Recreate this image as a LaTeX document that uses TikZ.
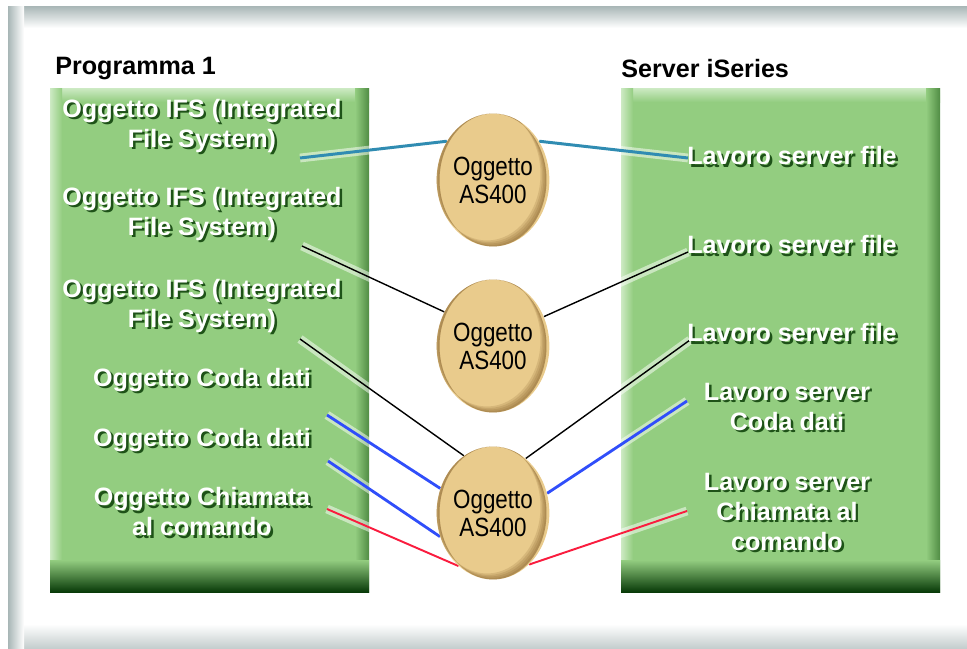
\documentclass[tikz,border=0pt]{standalone}
\usepackage{fontspec}
\setmainfont{Liberation Sans}
\newfontfamily\ovalfont{Liberation Sans}[FakeStretch=0.85]
\usetikzlibrary{shapes.geometric,calc}

\definecolor{boxgreen}{RGB}{147,205,128}
\definecolor{boxlight}{RGB}{205,234,196}
\definecolor{boxedge}{RGB}{80,140,68}
\definecolor{boxdark}{RGB}{8,58,8}
\definecolor{shadowgreen}{RGB}{30,82,24}
\definecolor{framegray}{RGB}{168,182,182}
\definecolor{ovaltan}{RGB}{233,203,140}
\definecolor{ovalrim}{RGB}{120,82,30}
\definecolor{wireteal}{RGB}{48,140,178}
\definecolor{wireblue}{RGB}{48,78,250}
\definecolor{wirered}{RGB}{250,28,62}

\newcommand\shd[1]{\rlap{\kern1.4pt\raisebox{-1.4pt}{\color{shadowgreen}#1}}#1}

\pgfdeclarelayer{back}
\pgfdeclarelayer{wires}
\pgfsetlayers{back,wires,main}

\begin{document}
\begin{tikzpicture}[x=0.02cm, y=-0.02cm, font=\bfseries\fontsize{14.3}{17}\selectfont,
    side/.style={text=white, align=center, inner sep=0},
    oval/.style={ellipse, fill=ovaltan, minimum width=2.14cm, minimum height=2.66cm,
        inner sep=0, align=center, font=\ovalfont\fontsize{15}{16}\selectfont,
        path picture={
            \foreach \d in {1.5,3,4.5,6}
                \fill[ovalrim, opacity=0.16, even odd rule] (path picture bounding box.center) ellipse (1.07cm and 1.33cm)
                    ($(path picture bounding box.center)+(-\d,-\d)$) ellipse (1.07cm and 1.33cm);
        }},
    wire/.style={preaction={draw=white, line width=5pt, opacity=0.5}}]
    \useasboundingbox (0,0) rectangle (967,649);

    \begin{pgfonlayer}{back}
        \shade[top color=framegray, bottom color=white] (8,6) rectangle (967,28);
        \shade[top color=white, bottom color=framegray!70] (8,624) rectangle (967,649);
        \shade[left color=framegray, right color=white] (8,6) rectangle (24,649);
        \foreach \bx in {50,621} {
            \fill[boxgreen] (\bx,88) rectangle ++(319,504);
            \shade[top color=boxlight, bottom color=boxgreen] (\bx,88) rectangle ++(319,14);
            \shade[left color=boxlight, right color=boxgreen] (\bx,88) rectangle ++(12,504);
            \shade[left color=boxgreen, right color=boxedge] (\bx+305,88) rectangle ++(14,504);
            \shade[top color=boxgreen, middle color=boxedge, bottom color=boxdark] (\bx,560) rectangle ++(319,32);
        }
    \end{pgfonlayer}

    \node[anchor=west, inner sep=0] (prog) at (55,69) {Programma 1};
    \node[anchor=west, inner sep=0] (serv) at (621,69) {Server iSeries};

    \node[side] (l1) at (202,127) {\shd{Oggetto IFS (Integrated}\\\shd{File System)}};
    \node[side] (l2) at (202,215) {\shd{Oggetto IFS (Integrated}\\\shd{File System)}};
    \node[side] (l3) at (202,307) {\shd{Oggetto IFS (Integrated}\\\shd{File System)}};
    \node[side] (l4) at (202,381) {\shd{Oggetto Coda dati}};
    \node[side] (l5) at (202,441) {\shd{Oggetto Coda dati}};
    \node[side] (l6) at (202,513) {\shd{Oggetto Chiamata}\\\shd{al comando}};

    \node[side] (r1) at (792,157) {\shd{Lavoro server file}};
    \node[side] (r2) at (792,246) {\shd{Lavoro server file}};
    \node[side] (r3) at (792,334) {\shd{Lavoro server file}};
    \node[side] (r4) at (787,408) {\shd{Lavoro server}\\\shd{Coda dati}};
    \node[side] (r5) at (787,513) {\shd{Lavoro server}\\\shd{Chiamata al}\\\shd{comando}};

    \node[oval] (o1) at (493,180) {Oggetto\\AS400};
    \node[oval] (o2) at (493,346) {Oggetto\\AS400};
    \node[oval] (o3) at (493,513) {Oggetto\\AS400};

    \coordinate (l1e) at (300,158);
    \coordinate (l2e) at (302,246);
    \coordinate (l3e) at (300,339);
    \coordinate (l4e) at (327,415);
    \coordinate (l5e) at (328,461);
    \coordinate (l6e) at (327,509);
    \coordinate (r1e) at (688,158);
    \coordinate (r2e) at (688,252);
    \coordinate (r3e) at (690,340);
    \coordinate (r4e) at (687,401);
    \coordinate (r5e) at (687,511);

    \begin{pgfonlayer}{wires}
        \draw[wire, wireteal, line width=1.7pt] (l1e) -- (o1.140);
        \draw[wire, wireteal, line width=1.7pt] (o1.40) -- (r1e);
        \draw[wire, black, line width=0.8pt] (l2e) -- (o2.145);
        \draw[wire, black, line width=0.8pt] (o2.30) -- (r2e);
        \draw[wire, black, line width=0.8pt] (l3e) -- (o3.117);
        \draw[wire, black, line width=0.8pt] (o3.59) -- (r3e);
        \draw[wire, wireblue, line width=1.6pt] (l4e) -- (o3.155);
        \draw[wire, wireblue, line width=1.6pt] (l5e) -- (o3.204);
        \draw[wire, wireblue, line width=1.6pt] (o3.20) -- (r4e);
        \draw[wire, wirered, line width=1.1pt] (l6e) -- (o3.237);
        \draw[wire, wirered, line width=1.1pt] (o3.305) -- (r5e);
    \end{pgfonlayer}
\end{tikzpicture}
\end{document}
